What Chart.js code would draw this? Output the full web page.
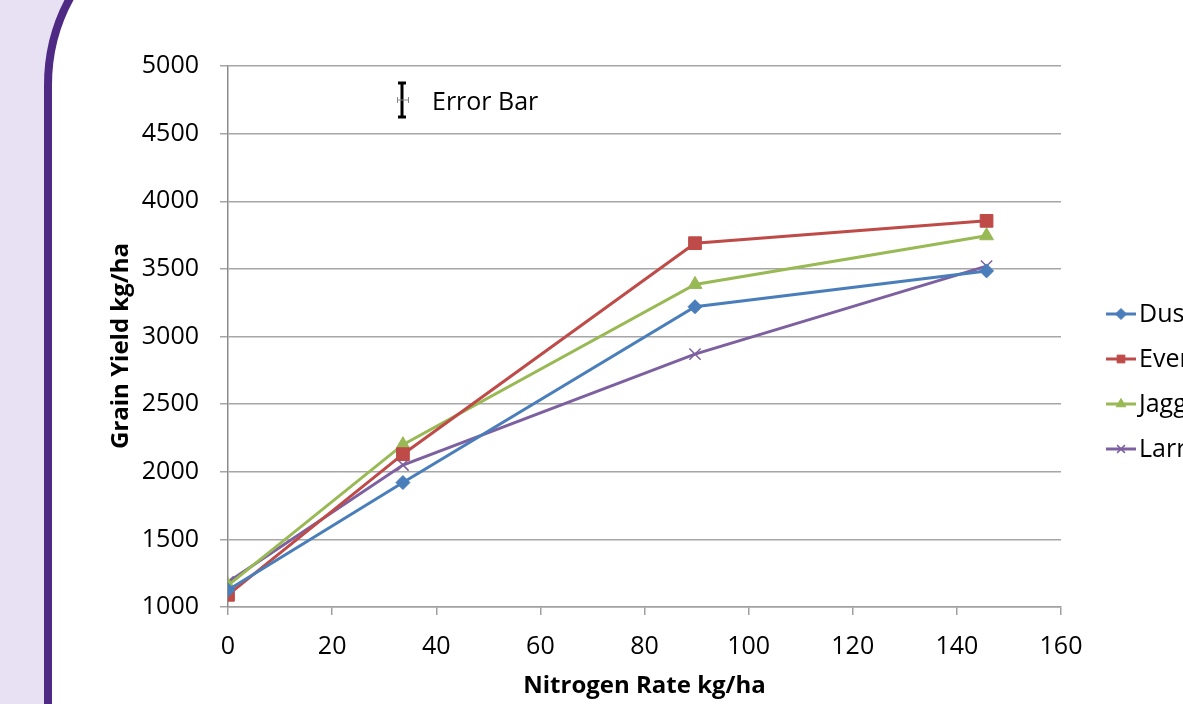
<!DOCTYPE html>
<html>
<head>
<meta charset="utf-8">
<script src="https://cdn.jsdelivr.net/npm/chart.js@4.4.1/dist/chart.umd.min.js"></script>
<style>
  html, body { margin: 0; padding: 0; background: #fff; overflow: hidden; }
  #chart { display: block; }
</style>
</head>
<body>
<canvas id="chart" width="1183" height="704"></canvas>
<script>
// Nitrogen rates (kg/ha) – 0, 30, 80, 130 lb/ac
const nitrogenRates = [0, 33.6, 89.7, 145.7];

const varietyNames = ['Duster', 'Everest', 'Jagger', 'Larry'];
const dusterYield  = [1125, 1920, 3220, 3485];
const everestYield = [1090, 2130, 3690, 3855];
const jaggerYield  = [1160, 2200, 3385, 3745];
const larryYield   = [1185, 2050, 2870, 3520];

const yTicks = { min: 1000, max: 5000, step: 500 };
const xTicks = { min: 0, max: 160, step: 20 };

const seriesColors = ['#4A7EBB', '#BE4B48', '#98B954', '#7D60A0'];
const seriesPoints = ['rectRot', 'rect', 'triangle', 'crossRot'];
const seriesRadius = [7, 9, 8, 8];

const FONT = '"Open Sans", "Liberation Sans", sans-serif';

function toPoints(values) {
  return values.map((v, i) => ({ x: nitrogenRates[i], y: v }));
}

const yields = [dusterYield, everestYield, jaggerYield, larryYield];

const datasets = yields.map((vals, i) => ({
  label: varietyNames[i],
  data: toPoints(vals),
  borderColor: seriesColors[i],
  backgroundColor: seriesColors[i],
  borderWidth: 3,
  pointStyle: seriesPoints[i],
  pointRadius: seriesRadius[i],
  pointBorderWidth: i === 3 ? 1.5 : 1,
  pointBorderColor: seriesColors[i],
  pointBackgroundColor: seriesColors[i],
  tension: 0
}));

// slide background with the purple rounded border on the left
const slideBackground = {
  id: 'slideBackground',
  beforeDraw(chart) {
    const ctx = chart.ctx;
    ctx.save();
    ctx.fillStyle = '#ffffff';
    ctx.fillRect(0, 0, chart.width, chart.height);

    const edge = () => {
      ctx.beginPath();
      ctx.moveTo(48, chart.height + 10);
      ctx.lineTo(48, 85);
      ctx.arc(230, 85, 182, Math.PI, Math.PI + 0.6, false);
    };
    edge();
    ctx.lineTo(0, -30);
    ctx.lineTo(0, chart.height + 10);
    ctx.closePath();
    ctx.fillStyle = '#E8E0F3';
    ctx.fill();

    edge();
    ctx.lineWidth = 8;
    ctx.strokeStyle = '#4E2A84';
    ctx.stroke();
    ctx.restore();
  }
};

// y-axis title, error bar key and the (clipped) legend
const extras = {
  id: 'extras',
  afterDraw(chart) {
    const ctx = chart.ctx;
    ctx.save();

    // y title
    ctx.translate(121, 346);
    ctx.rotate(-Math.PI / 2);
    ctx.font = 'bold 24px ' + FONT;
    ctx.fillStyle = '#000';
    ctx.textAlign = 'center';
    ctx.textBaseline = 'middle';
    ctx.fillText('Grain Yield kg/ha', 0, 0);
    ctx.setTransform(1, 0, 0, 1, 0, 0);

    // error bar key
    ctx.strokeStyle = '#000';
    ctx.lineWidth = 3;
    ctx.beginPath();
    ctx.moveTo(402, 83); ctx.lineTo(402, 117);
    ctx.moveTo(398, 83); ctx.lineTo(406, 83);
    ctx.moveTo(398, 117); ctx.lineTo(406, 117);
    ctx.stroke();
    ctx.strokeStyle = '#888';
    ctx.lineWidth = 1;
    ctx.beginPath();
    ctx.moveTo(397, 100); ctx.lineTo(409, 100);
    ctx.moveTo(397.5, 97); ctx.lineTo(397.5, 103);
    ctx.moveTo(408.5, 97); ctx.lineTo(408.5, 103);
    ctx.stroke();
    ctx.font = '25px ' + FONT;
    ctx.fillStyle = '#000';
    ctx.textAlign = 'left';
    ctx.textBaseline = 'middle';
    ctx.fillText('Error Bar', 432, 103);

    // legend
    chart.data.datasets.forEach((ds, i) => {
      const y = 314 + i * 45;
      ctx.strokeStyle = ds.borderColor;
      ctx.fillStyle = ds.borderColor;
      ctx.lineWidth = 3;
      ctx.beginPath();
      ctx.moveTo(1106, y);
      ctx.lineTo(1136, y);
      ctx.stroke();
      ctx.lineWidth = ds.pointBorderWidth;
      Chart.helpers.drawPoint(ctx, {
        pointStyle: ds.pointStyle,
        radius: 5.5,
        rotation: 0,
        borderWidth: ds.pointBorderWidth
      }, 1121, y);
      ctx.fillStyle = '#000';
      ctx.font = '25px ' + FONT;
      ctx.fillText(ds.label, 1139, y + 1);
    });
    ctx.restore();
  }
};

new Chart(document.getElementById('chart'), {
  type: 'line',
  data: { datasets: datasets },
  plugins: [slideBackground, extras],
  options: {
    responsive: false,
    animation: false,
    devicePixelRatio: 1,
    layout: { padding: { left: 0, right: 122, top: 66, bottom: 0 } },
    scales: {
      x: {
        type: 'linear',
        min: xTicks.min,
        max: xTicks.max,
        ticks: {
          stepSize: xTicks.step,
          color: '#000',
          padding: 17,
          font: { family: FONT, size: 25 },
          callback: v => String(v)
        },
        grid: {
          drawOnChartArea: false,
          drawTicks: true,
          tickLength: 8,
          color: '#A0A0A0',
          lineWidth: 1.5
        },
        border: { color: '#A0A0A0', width: 1.5 },
        title: {
          display: true,
          text: 'Nitrogen Rate kg/ha',
          color: '#000',
          font: { family: FONT, size: 24, weight: 'bold' },
          padding: { top: 0, bottom: 3 }
        },
        afterFit(scale) { scale.height = 97; }
      },
      y: {
        min: yTicks.min,
        max: yTicks.max,
        ticks: {
          stepSize: yTicks.step,
          color: '#000',
          padding: 21,
          font: { family: FONT, size: 25 },
          callback: v => String(v)
        },
        grid: {
          color: '#A6A6A6',
          lineWidth: 1.5,
          tickLength: 8
        },
        border: { color: '#8C8C8C', width: 1.5 },
        afterFit(scale) { scale.width = 228; }
      }
    },
    plugins: {
      legend: { display: false },
      tooltip: { enabled: false }
    }
  }
});
</script>
</body>
</html>
